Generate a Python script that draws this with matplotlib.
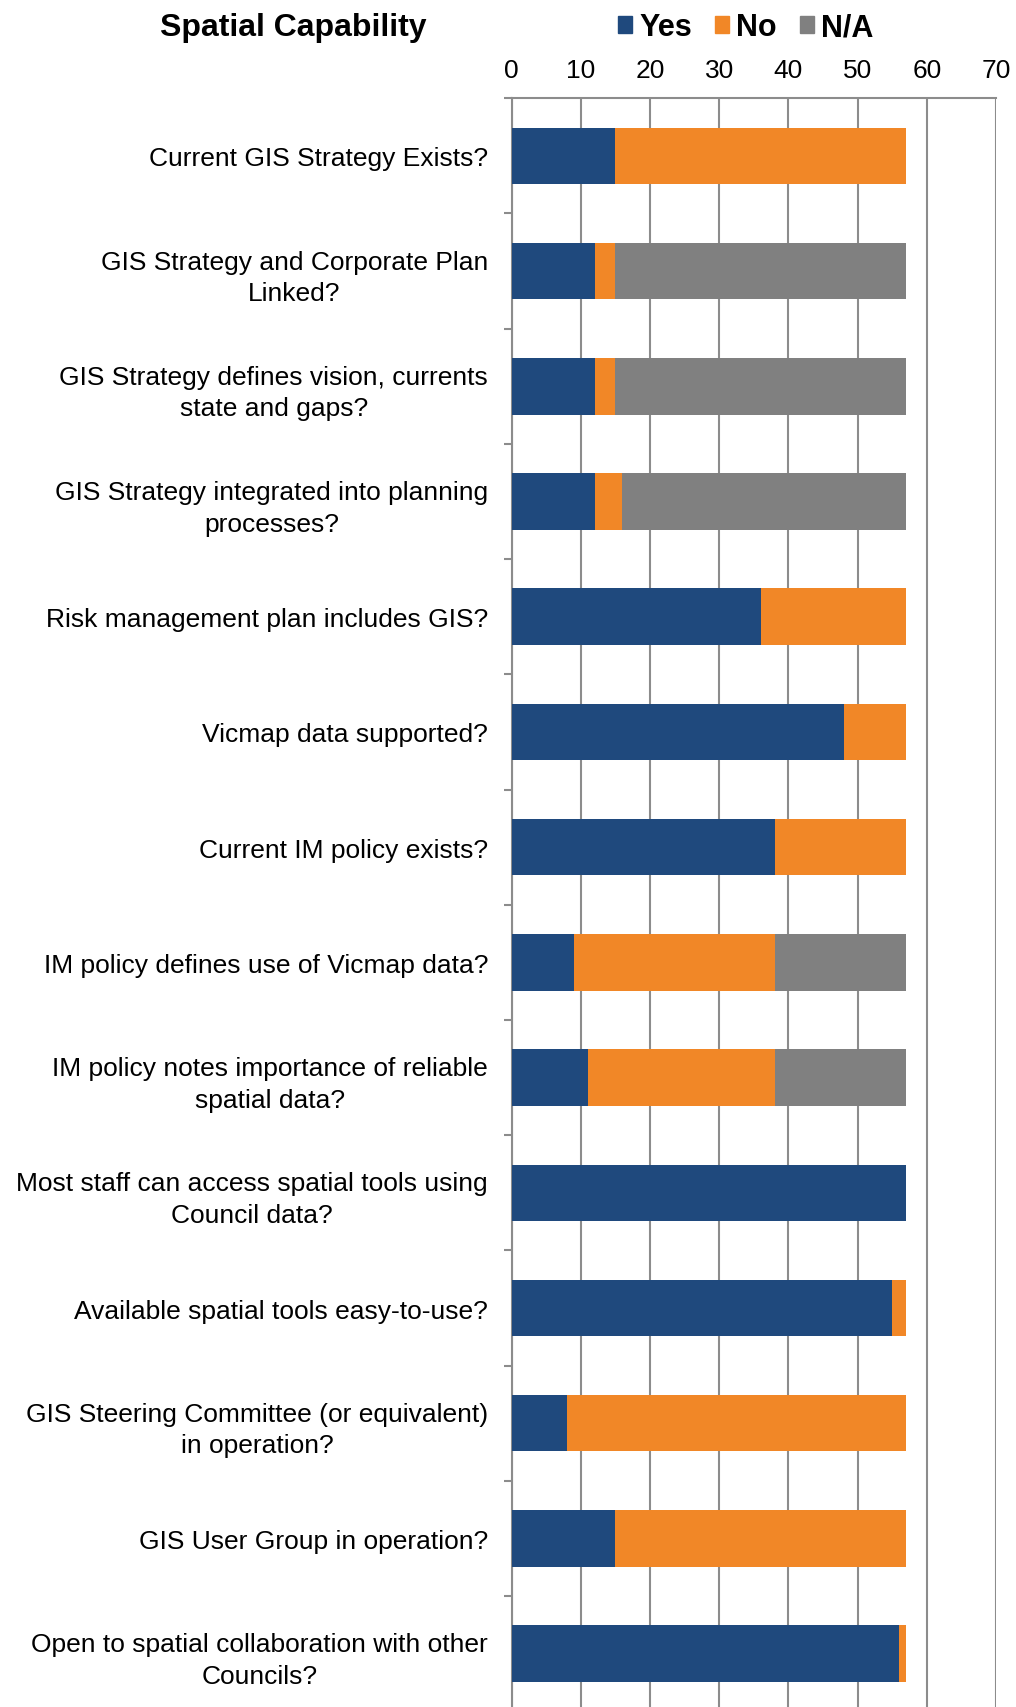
import numpy as np
import matplotlib
matplotlib.use("Agg")
import matplotlib.pyplot as plt
from matplotlib.patches import Patch

plt.rcParams['font.family'] = ['Liberation Sans', 'DejaVu Sans']

# data
kategori = [
    "Current GIS Strategy Exists?",
    "GIS Strategy and Corporate Plan\nLinked?",
    "GIS Strategy defines vision, currents\nstate and gaps?",
    "GIS Strategy integrated into planning\nprocesses?",
    "Risk management plan includes GIS?",
    "Vicmap data supported?",
    "Current IM policy exists?",
    "IM policy defines use of Vicmap data?",
    "IM policy notes importance of reliable\nspatial data?",
    "Most staff can access spatial tools using\nCouncil data?",
    "Available spatial tools easy-to-use?",
    "GIS Steering Committee (or equivalent)\nin operation?",
    "GIS User Group in operation?",
    "Open to spatial collaboration with other\nCouncils?",
]
yes = [15, 12, 12, 12, 36, 48, 38, 9, 11, 57, 55, 8, 15, 56]
no = [42, 3, 3, 4, 21, 9, 19, 29, 27, 0, 2, 49, 42, 1]
na = [0, 42, 42, 41, 0, 0, 0, 19, 19, 0, 0, 0, 0, 0]
x_ticks = [0, 10, 20, 30, 40, 50, 60, 70]

warna = {"Yes": "#1F497D", "No": "#F18727", "N/A": "#808080"}
abu = "#8C8C8C"

fig = plt.figure(figsize=(10.16, 17.08), dpi=100)
ax = fig.add_axes([0.5036, -0.0025, 0.4767, 0.9444])

y = np.arange(len(kategori))
yes = np.array(yes)
no = np.array(no)
na = np.array(na)
tinggi = 0.49

ax.barh(y, yes, height=tinggi, color=warna["Yes"], zorder=3)
ax.barh(y, no, left=yes, height=tinggi, color=warna["No"], zorder=3)
ax.barh(y, na, left=yes + no, height=tinggi, color=warna["N/A"], zorder=3)

ax.set_xlim(0, 70)
ax.set_ylim(len(kategori) - 0.5, -0.5)

# sumbu x di atas
ax.xaxis.tick_top()
ax.set_xticks(x_ticks)
ax.tick_params(axis='x', length=0, pad=12, labelsize=19)
ax.grid(axis='x', color=abu, linewidth=1.5, zorder=1)

# label kategori
ax.set_yticks(y)
ax.set_yticklabels(kategori, fontsize=19, linespacing=1.4)
for lbl in ax.get_yticklabels():
    lbl.set_multialignment('center')
ax.tick_params(axis='y', which='major', length=0, pad=17)
ax.set_yticks(np.arange(len(kategori) + 1) - 0.5, minor=True)
ax.tick_params(axis='y', which='minor', length=6, width=1.5, color=abu)

for s in ['right', 'bottom']:
    ax.spines[s].set_visible(False)
for s in ['left', 'top']:
    ax.spines[s].set_color(abu)
    ax.spines[s].set_linewidth(1.5)

# judul dan legenda
fig.text(0.289, 0.9835, "Spatial Capability", fontsize=23, fontweight='bold',
         ha='center', va='center')
handles = [Patch(color=warna[k], label=k) for k in ["Yes", "No", "N/A"]]
leg = fig.legend(handles=handles, loc='center', bbox_to_anchor=(0.734, 0.9835),
                 ncol=3, frameon=False, prop={'size': 22, 'weight': 'bold'},
                 handlelength=0.45, handleheight=0.45, handletextpad=0.25,
                 columnspacing=0.75, borderpad=0)

fig.savefig("out.png", dpi=100)
